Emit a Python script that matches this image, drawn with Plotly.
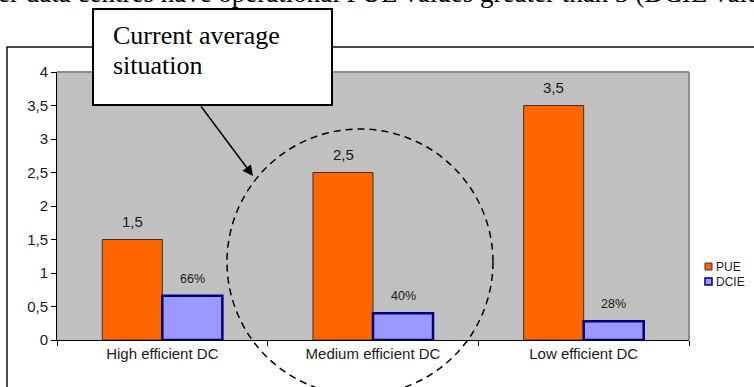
import plotly.graph_objects as go

# Chart data
categories = ["High efficient DC", "Medium efficient DC", "Low efficient DC"]
pue = [1.5, 2.5, 3.5]
dcie = [0.66, 0.40, 0.28]
y_ticks = [0, 0.5, 1, 1.5, 2, 2.5, 3, 3.5, 4]

# Canvas and plot-area geometry (pixels)
W, H = 754, 387
L, R, T, B = 57, 65, 72, 47
PW, PH = W - L - R, H - T - B


def px(x):
    """pixel x -> paper x"""
    return (x - L) / PW


def py(y):
    """pixel y (from top) -> paper y"""
    return (T + PH - y) / PH


SANS = "Liberation Sans, Arial, sans-serif"
SERIF = "Liberation Serif, Times New Roman, serif"
INK = "#1a1a1a"
BAR_HALF = 30  # half of one bar's width in pixels (used to centre value labels)

fig = go.Figure()
fig.add_bar(
    x=categories, y=pue, name="PUE", showlegend=False,
    marker=dict(color="#FF6600", line=dict(color="#333333", width=1)),
)
fig.add_bar(
    x=categories, y=dcie, name="DCIE", showlegend=False,
    marker=dict(color="#9999FF", line=dict(color="#000080", width=2.5)),
)

shapes = [
    # outer chart frame
    dict(type="rect", xref="paper", yref="paper",
         x0=px(7), x1=px(800), y0=py(420), y1=py(47),
         line=dict(color="#111111", width=1.5), layer="above"),
    # grey plot-area border (top and right)
    dict(type="line", xref="paper", yref="paper", x0=0, x1=1, y0=1, y1=1,
         line=dict(color="#8c8c8c", width=2), layer="above"),
    dict(type="line", xref="paper", yref="paper", x0=1, x1=1, y0=0, y1=1,
         line=dict(color="#8c8c8c", width=2), layer="above"),
    # dashed circle around the medium case
    dict(type="circle", xref="paper", yref="paper",
         x0=px(227), x1=px(493), y0=py(395), y1=py(129),
         line=dict(color="black", width=1.5, dash="7px,5px"), layer="above"),
    # callout box
    dict(type="rect", xref="paper", yref="paper",
         x0=px(93), x1=px(332), y0=py(105), y1=py(9),
         fillcolor="white", line=dict(color="black", width=2), layer="above"),
    # legend swatches
    dict(type="rect", xref="paper", yref="paper",
         x0=px(705), x1=px(712), y0=py(270), y1=py(263),
         fillcolor="#FF6600", line=dict(color="#333333", width=1), layer="above"),
    dict(type="rect", xref="paper", yref="paper",
         x0=px(705), x1=px(712), y0=py(285), y1=py(278),
         fillcolor="#9999FF", line=dict(color="#000080", width=1.5), layer="above"),
]

annotations = [
    # running text line above the chart
    dict(text="er data centres have operational PUE values greater than 3 (DCIE values",
         xref="paper", yref="paper", x=px(-4), y=py(-7),
         xanchor="left", yanchor="middle", showarrow=False,
         font=dict(family=SERIF, size=27, color="black")),
    # callout text
    dict(text="Current average", xref="paper", yref="paper",
         x=px(111), y=py(35), xanchor="left", yanchor="middle", showarrow=False,
         font=dict(family=SERIF, size=26, color="black")),
    dict(text="situation", xref="paper", yref="paper",
         x=px(111), y=py(65), xanchor="left", yanchor="middle", showarrow=False,
         font=dict(family=SERIF, size=26, color="black")),
    # callout arrow
    dict(text="", xref="paper", yref="paper", x=px(253), y=py(176),
         ax=200 - 253, ay=105 - 176, axref="pixel", ayref="pixel",
         showarrow=True, arrowhead=2, arrowsize=1.4, arrowwidth=1.5,
         arrowcolor="black", standoff=0),
    # legend labels
    dict(text="PUE", xref="paper", yref="paper", x=px(714), y=py(266.5),
         xanchor="left", yanchor="middle", showarrow=False,
         font=dict(family=SANS, size=12, color=INK)),
    dict(text="DCIE", xref="paper", yref="paper", x=px(714), y=py(281.5),
         xanchor="left", yanchor="middle", showarrow=False,
         font=dict(family=SANS, size=12, color=INK)),
]

# value labels above each bar, placed from the same data
for cat, v in zip(categories, pue):
    annotations.append(dict(
        text=f"{v:.1f}".replace(".", ","), x=cat, y=v, xref="x", yref="y",
        xshift=-BAR_HALF, yshift=8, yanchor="bottom", showarrow=False,
        font=dict(family=SANS, size=15, color=INK)))
for cat, v in zip(categories, dcie):
    annotations.append(dict(
        text=f"{round(v * 100)}%", x=cat, y=v, xref="x", yref="y",
        xshift=BAR_HALF, yshift=8, yanchor="bottom", showarrow=False,
        font=dict(family=SANS, size=12.5, color=INK)))

fig.update_layout(
    width=W, height=H,
    margin=dict(l=L, r=R, t=T, b=B, pad=0),
    paper_bgcolor="white", plot_bgcolor="#C0C0C0",
    barmode="group", bargap=0.43, bargroupgap=0,
    separators=", ",
    font=dict(family=SANS, size=15, color=INK),
    shapes=shapes, annotations=annotations,
    showlegend=False,
)
fig.update_xaxes(
    type="category", showline=True, linecolor="black", linewidth=1,
    ticks="outside", tickson="boundaries", ticklen=5, tickcolor="black",
    showgrid=False, tickfont=dict(size=15, color=INK),
)
fig.update_yaxes(
    range=[0, 4], tickvals=y_ticks, showline=True, linecolor="black", linewidth=1,
    ticks="outside", ticklen=5, tickcolor="black", showgrid=False, zeroline=False,
    tickfont=dict(size=15, color=INK),
)

fig.write_html("out.html")
